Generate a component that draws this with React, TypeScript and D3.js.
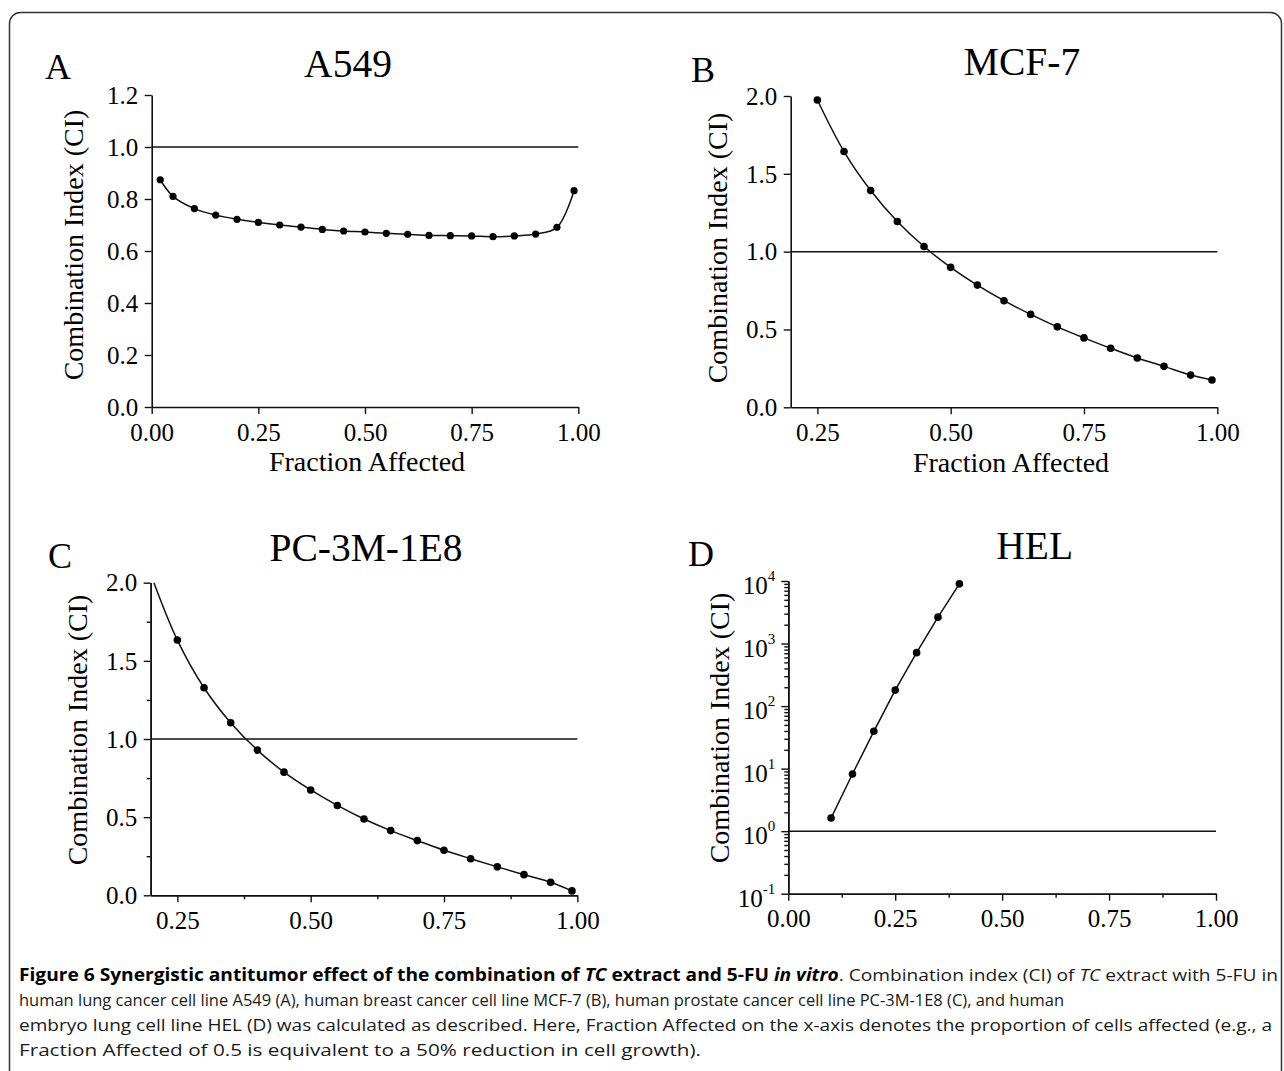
import React, { useEffect, useRef } from "react";
import * as d3 from "d3";

// fraction affected / combination index
const aFa = [0.02, 0.05, 0.1, 0.15, 0.2, 0.25, 0.3, 0.35, 0.4, 0.45, 0.5, 0.55, 0.6, 0.65, 0.7, 0.75, 0.8, 0.85, 0.9, 0.95, 0.99];
const aCi = [0.874, 0.81, 0.763, 0.738, 0.722, 0.71, 0.7, 0.692, 0.683, 0.677, 0.673, 0.668, 0.664, 0.66, 0.659, 0.658, 0.655, 0.658, 0.665, 0.691, 0.832];

const bFa = [0.25, 0.3, 0.35, 0.4, 0.45, 0.5, 0.55, 0.6, 0.65, 0.7, 0.75, 0.8, 0.85, 0.9, 0.95, 0.99];
const bCi = [1.974, 1.643, 1.393, 1.194, 1.033, 0.899, 0.785, 0.685, 0.597, 0.517, 0.446, 0.379, 0.317, 0.263, 0.207, 0.175];

const cFa = [0.25, 0.3, 0.35, 0.4, 0.45, 0.5, 0.55, 0.6, 0.65, 0.7, 0.75, 0.8, 0.85, 0.9, 0.95, 0.99];
const cCi = [1.633, 1.328, 1.104, 0.929, 0.788, 0.674, 0.575, 0.488, 0.414, 0.35, 0.288, 0.234, 0.182, 0.132, 0.083, 0.028];
// where the fitted C curve leaves the top of the frame
const cLead = [0.206, 2.0];

const dFa = [0.1, 0.15, 0.2, 0.25, 0.3, 0.35, 0.4];
const dCi = [1.62, 8.2, 39.5, 180, 715, 2640, 9000];

const xTicks01 = [0, 0.25, 0.5, 0.75, 1.0];
const xTicks21 = [0.25, 0.5, 0.75, 1.0];
const yTicksA = [0, 0.2, 0.4, 0.6, 0.8, 1.0, 1.2];
const yTicks2 = [0, 0.5, 1.0, 1.5, 2.0];
const xMinorC = [0.375, 0.625, 0.875];
const yMinorC = [0.25, 0.75, 1.25, 1.75];
const xMinorD = [0.125, 0.375, 0.625, 0.875];
const yTicksD = [0.1, 1, 10, 100, 1000, 10000];

const serif = "'Liberation Serif', 'Times New Roman', Times, serif";
const ink = "#111";

function drawPanel(svg, p) {
  const g = svg.append("g");
  const x = d3.scaleLinear().domain(p.xDomain).range(p.xRange);
  const y = p.log
    ? d3.scaleLog().domain(p.yDomain).range(p.yRange)
    : d3.scaleLinear().domain(p.yDomain).range(p.yRange);

  const styleAxis = (a) => {
    a.attr("font-family", serif).attr("font-size", 25);
    a.selectAll("path.domain").attr("stroke", ink).attr("stroke-width", 1.6);
    a.selectAll(".tick line").attr("stroke", ink).attr("stroke-width", 1.4);
    a.selectAll(".tick text").attr("fill", "#000");
  };

  // minor ticks first
  if (p.xMinor) {
    g.append("g").attr("transform", `translate(0,${p.yRange[0]})`)
      .call(d3.axisBottom(x).tickValues(p.xMinor).tickSize(4).tickSizeOuter(0).tickFormat(() => ""))
      .call(styleAxis);
  }
  if (p.yMinor) {
    g.append("g").attr("transform", `translate(${p.xRange[0]},0)`)
      .call(d3.axisLeft(y).tickValues(p.yMinor).tickSize(4).tickSizeOuter(0).tickFormat(() => ""))
      .call(styleAxis);
  }

  const xa = g.append("g").attr("transform", `translate(0,${p.yRange[0]})`)
    .call(d3.axisBottom(x).tickValues(p.xTicks).tickSize(7).tickSizeOuter(0).tickFormat(d3.format(".2f")))
    .call(styleAxis);
  xa.selectAll(".tick text").attr("y", 16).attr("dy", "0.71em");

  const ya = g.append("g").attr("transform", `translate(${p.xRange[0]},0)`)
    .call(d3.axisLeft(y).tickValues(p.yTicks).tickSize(7).tickSizeOuter(0).tickFormat(p.log ? () => "" : d3.format(".1f")))
    .call(styleAxis);
  ya.selectAll(".tick text").attr("x", -13.5).attr("dy", "0.33em");

  if (p.log) {
    ya.selectAll(".tick text").each(function (d) {
      const t = d3.select(this);
      t.text(null).attr("x", -21).attr("dy", null).attr("y", 12.5);
      t.append("tspan").text("10");
      t.append("tspan").attr("font-size", 15).attr("dy", -13).text(String(Math.round(Math.log10(d))));
    });
    ya.selectAll(".tick text").attr("text-anchor", "start").each(function () {
      const t = this;
      const w = t.getComputedTextLength();
      d3.select(t).attr("x", -13 - w);
    });
  }

  // reference line at CI = 1
  g.append("line")
    .attr("x1", p.xRange[0]).attr("x2", p.xRange[1])
    .attr("y1", y(1)).attr("y2", y(1))
    .attr("stroke", ink).attr("stroke-width", 1.5);

  const pts = p.fa.map((f, i) => [f, p.ci[i]]);
  const linePts = p.lead ? [p.lead, ...pts] : pts;
  const line = d3.line()
    .x((d) => x(d[0]))
    .y((d) => y(d[1]))
    .curve(p.smooth ? d3.curveCatmullRom.alpha(0.5) : d3.curveLinear);
  g.append("path").attr("d", line(linePts)).attr("fill", "none")
    .attr("stroke", ink).attr("stroke-width", 1.5);

  g.selectAll("circle.pt").data(pts).join("circle")
    .attr("class", "pt")
    .attr("cx", (d) => x(d[0])).attr("cy", (d) => y(d[1]))
    .attr("r", p.r).attr("fill", "#000");

  // panel letter, title, axis titles
  g.append("text").attr("x", p.letter[1]).attr("y", p.letter[2])
    .attr("font-family", serif).attr("font-size", 36).text(p.letter[0]);
  g.append("text").attr("x", p.title[1]).attr("y", p.title[2]).attr("text-anchor", "middle")
    .attr("font-family", serif).attr("font-size", 39.5).text(p.title[0]);
  if (p.xTitle) {
    g.append("text").attr("x", p.xTitle[0]).attr("y", p.xTitle[1]).attr("text-anchor", "middle")
      .attr("font-family", serif).attr("font-size", 28).text("Fraction Affected");
  }
  g.append("text")
    .attr("transform", `translate(${p.yTitle[0]},${p.yTitle[1]}) rotate(-90)`)
    .attr("text-anchor", "middle")
    .attr("font-family", serif).attr("font-size", 28).text("Combination Index (CI)");
}

const panels = [
  {
    letter: ["A", 45, 79], title: ["A549", 348, 76.5],
    xDomain: [0, 1], xRange: [151.7, 578.3], yDomain: [0, 1.2], yRange: [407, 95],
    xTicks: xTicks01, yTicks: yTicksA, fa: aFa, ci: aCi, smooth: true, r: 3.6,
    xTitle: [367, 470.5], yTitle: [83, 245],
  },
  {
    letter: ["B", 691, 81.5], title: ["MCF-7", 1022, 75],
    xDomain: [0.2, 1], xRange: [790.7, 1217.3], yDomain: [0, 2], yRange: [407.3, 96],
    xTicks: xTicks21, yTicks: yTicks2, fa: bFa, ci: bCi, smooth: true, r: 3.8,
    xTitle: [1011, 472], yTitle: [727, 248],
  },
  {
    letter: ["C", 48, 567.5], title: ["PC-3M-1E8", 366, 560.5],
    xDomain: [0.2, 1], xRange: [150.7, 577.3], yDomain: [0, 2], yRange: [895.3, 582.7],
    xTicks: xTicks21, yTicks: yTicks2, xMinor: xMinorC, yMinor: yMinorC,
    fa: cFa, ci: cCi, lead: cLead, smooth: true, r: 3.8,
    yTitle: [87, 730],
  },
  {
    letter: ["D", 688, 565.5], title: ["HEL", 1034.7, 559.3],
    xDomain: [0, 1], xRange: [788.3, 1216], yDomain: [0.1, 10000], yRange: [893.7, 581], log: true,
    xTicks: xTicks01, yTicks: yTicksD, xMinor: xMinorD,
    fa: dFa, ci: dCi, smooth: false, r: 3.8,
    yTitle: [729, 728],
  },
];

export default function App() {
  const ref = useRef<SVGSVGElement>(null);

  useEffect(() => {
    const svg = d3.select(ref.current);
    svg.selectAll("g.panels").remove();
    const root = svg.append("g").attr("class", "panels");
    panels.forEach((p) => {
      if (p.log) {
        // log minor ticks 2..9 inside each decade
        const ys = d3.scaleLog().domain(p.yDomain);
        p.yMinor = ys.ticks().filter((t) => !yTicksD.includes(t));
      }
      drawPanel(root, p);
    });
  }, []);

  const cap = { fontFamily: "'Open Sans', 'Noto Sans', sans-serif", fontSize: 17, fill: "#1a1a1a" };

  return (
    <svg ref={ref} width={1284} height={1071} style={{ position: "absolute", left: 0, top: 0, background: "#fff" }}>
      <rect x={9.5} y={12.5} width={1272} height={1090} rx={11} fill="none" stroke="#333" strokeWidth={1.5} />
      <g style={cap}>
        <text x={19} y={981} textLength={1259} lengthAdjust="spacingAndGlyphs">
          <tspan fontWeight="bold" fill="#000">Figure 6 Synergistic antitumor effect of the combination of </tspan>
          <tspan fontWeight="bold" fontStyle="italic" fill="#000">TC</tspan>
          <tspan fontWeight="bold" fill="#000"> extract and 5-FU </tspan>
          <tspan fontWeight="bold" fontStyle="italic" fill="#000">in vitro</tspan>
          <tspan>. Combination index (CI) of </tspan>
          <tspan fontStyle="italic">TC</tspan>
          <tspan> extract with 5-FU in</tspan>
        </text>
        <text x={19} y={1006} textLength={1045} lengthAdjust="spacingAndGlyphs">
          human lung cancer cell line A549 (A), human breast cancer cell line MCF-7 (B), human prostate cancer cell line PC-3M-1E8 (C), and human
        </text>
        <text x={19} y={1031} textLength={1253} lengthAdjust="spacingAndGlyphs">
          embryo lung cell line HEL (D) was calculated as described. Here, Fraction Affected on the x-axis denotes the proportion of cells affected (e.g., a
        </text>
        <text x={19} y={1056} textLength={682} lengthAdjust="spacingAndGlyphs">
          Fraction Affected of 0.5 is equivalent to a 50% reduction in cell growth).
        </text>
      </g>
    </svg>
  );
}
